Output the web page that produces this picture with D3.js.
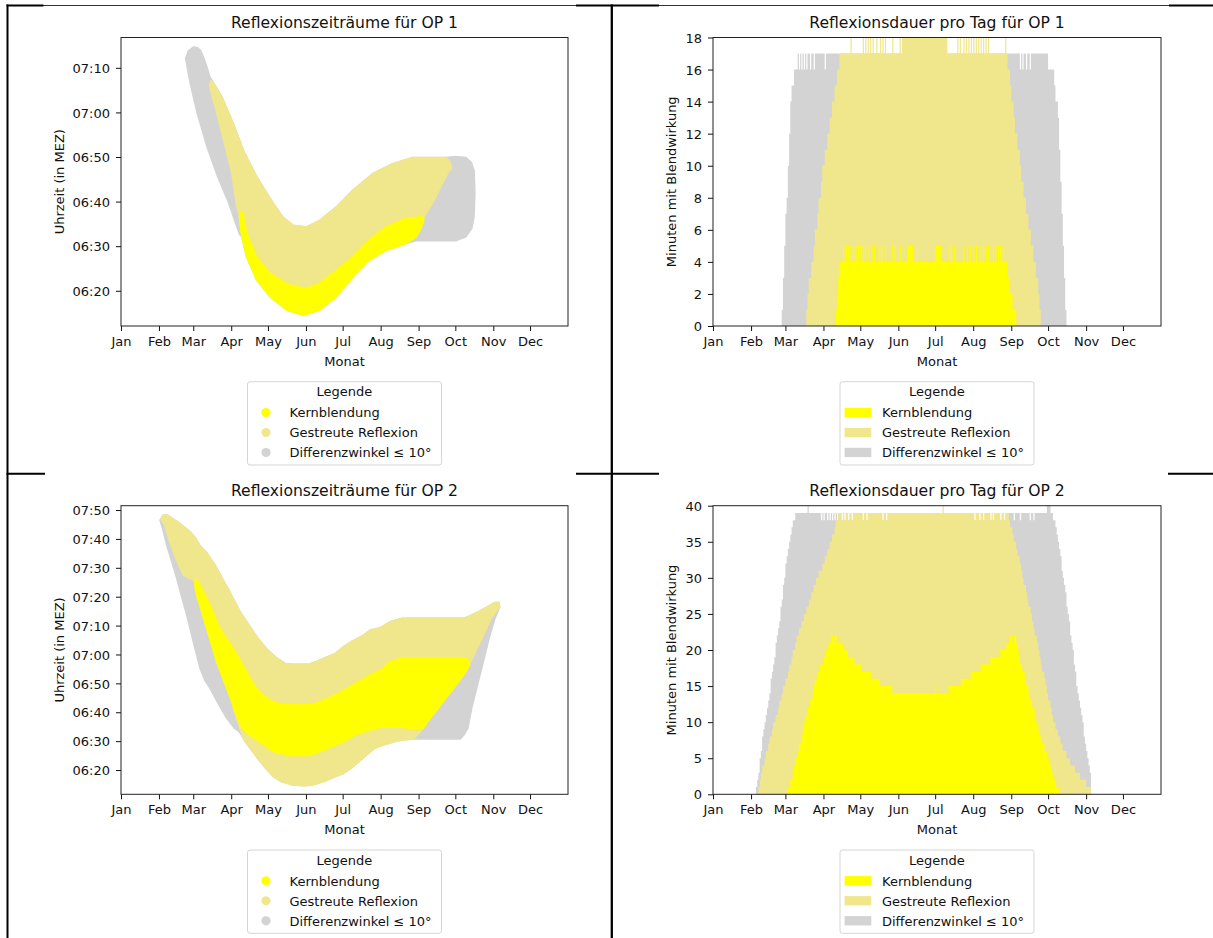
<!DOCTYPE html>
<html>
<head>
<meta charset="utf-8">
<script src="https://cdn.jsdelivr.net/npm/d3@7"></script>
<style>
  body { margin: 0; background: #fff; }
  svg { font-family: "DejaVu Sans", sans-serif; }
</style>
</head>
<body>
<svg id="chart" width="1213" height="938"></svg>
<script>
// ---- data -------------------------------------------------------------
// days = days after 1 Jan, times = minutes after midnight (MEZ)
const monthLabels = ["Jan", "Feb", "Mar", "Apr", "May", "Jun", "Jul", "Aug", "Sep", "Oct", "Nov", "Dec"];
const legendTitle = "Legende";
const legendLabels = ["Kernblendung", "Gestreute Reflexion", "Differenzwinkel \u2264 10\u00b0"];
const titles = ["Reflexionszeiträume für OP 1", "Reflexionsdauer pro Tag für OP 1",
                "Reflexionszeiträume für OP 2", "Reflexionsdauer pro Tag für OP 2"];

const op1TimeTicks = ["06:20", "06:30", "06:40", "06:50", "07:00", "07:10"];
const op2TimeTicks = ["06:20", "06:30", "06:40", "06:50", "07:00", "07:10", "07:20", "07:30", "07:40", "07:50"];
const op1MinuteTicks = [0, 2, 4, 6, 8, 10, 12, 14, 16, 18];
const op2MinuteTicks = [0, 5, 10, 15, 20, 25, 30, 35, 40];
const op1TimeLimits = [372.1, 436.8];
const op2TimeLimits = [371.6, 471.5];

// OP 1 reflection periods: upper and lower edge of each point cloud [day, minute]
const op1DiffTop = [[52.7,432.1],[55,433.8],[59.4,434.7],[62.5,434.5],[64.8,434],[67.5,432.3],[70.2,430.2],[72.5,428],[74.3,427.2],[78,425.5],[82.4,423.5],[90.5,418.3],[100,411.5],[110.8,405.6],[124.4,399.6],[132,396.6],[140.6,394.7],[151.4,394.3],[162.2,395.8],[175.9,398.8],[189.3,402.6],[205.7,406.3],[221.9,408.5],[238.1,409.9],[265.4,409.9],[273.3,410.1],[281.6,409.9],[286,408.8],[288.3,407],[289,402]];
const op1DiffBottom = [[52.7,432.1],[56.5,426.5],[62.2,419.8],[70.2,412.3],[79,405.5],[87.5,400],[94.6,394.3],[97.1,392.5],[98.7,392.1],[102.6,387.6],[110.8,382.4],[121.6,378.7],[135.2,375.7],[148.9,374.5],[162.2,375.7],[175.9,378.7],[189.3,383.1],[202.9,386.9],[216.5,389.1],[232.7,390.6],[241,391.2],[273.3,391.2],[281.6,392.1],[286.5,394],[288.3,396.6],[289,402]];
const op1ScatterTop = [[72.3,426.3],[73.5,427.1],[75,426.8],[78,425.5],[82.4,423.5],[90.5,418.3],[100,411.5],[110.8,405.6],[124.4,399.6],[132,396.6],[140.6,394.7],[151.4,394.3],[162.2,395.8],[175.9,398.8],[189.3,402.6],[205.7,406.3],[221.9,408.5],[238.1,409.9],[265.4,409.9],[268.5,409],[270,407.5]];
const op1ScatterBottom = [[72.3,426.3],[74,424],[76.8,421.3],[83.8,413.8],[90.5,406.3],[94.6,398.8],[96.5,397],[97.3,395],[98.7,392.1],[102.6,387.6],[110.8,382.4],[121.6,378.7],[135.2,375.7],[148.9,374.5],[162.2,375.7],[175.9,378.7],[189.3,383.1],[202.9,386.9],[216.5,389.1],[232.7,390.6],[240.9,392.1],[245,394],[246.8,395.8],[247.6,396.6],[254.3,399.6],[262.5,404.1],[267,406.5],[270,407.5]];
const op1KernTop = [[96.8,396.5],[97.8,397.7],[99.5,397.5],[102.6,392.9],[110.8,387.6],[121.6,383.9],[135.2,381.6],[150.2,380.5],[162.2,381.6],[175.9,384.6],[189.3,387.6],[202.9,391.4],[216.5,394.3],[232.7,396.2],[246.3,396.6],[247.3,395.8]];
const op1KernBottom = [[96.8,396.5],[97.5,394.5],[98.7,392.1],[102.6,387.6],[110.8,382.4],[121.6,378.7],[135.2,375.7],[148.9,374.5],[162.2,375.7],[175.9,378.7],[189.3,383.1],[202.9,386.9],[216.5,389.1],[232.7,390.6],[240.9,392.1],[245,394],[247.3,395.8]];

// OP 2 reflection periods
const op2DiffTop = [[31.8,466.5],[34.5,468.3],[38,468.2],[41.9,467.1],[46,466],[51.4,464.2],[56.5,462.5],[60.5,460.5],[64.1,457.9],[70.3,455],[76.8,451],[83.3,445.8],[89.5,441.2],[97,435],[104,430.5],[112,425.5],[120,421.5],[127.5,418.7],[134,416.9],[140.3,416.6],[153,416.6],[159.4,417.5],[165.7,418.7],[175.2,420.4],[181.6,422.7],[187.9,424.4],[197.5,426.5],[203.8,428.5],[211.7,429.3],[219.7,431.3],[229.2,432.5],[280,432.5],[286.3,433.7],[292.7,435],[299,436.5],[305.4,438],[308.5,438],[309.3,436.5]];
const op2DiffBottom = [[31.8,466.5],[34,463.5],[37.3,457.9],[41.5,452],[45.5,446.4],[49.5,440],[53.6,433.7],[59,424.4],[64.5,415.2],[68.5,411],[72.7,408.3],[80,402.5],[86.3,397.9],[92.7,394.4],[96.5,393.3],[100.6,390.4],[105.4,387.5],[111.7,384],[118.1,380.6],[124.4,377.7],[130.8,376],[140.3,374.8],[149.8,374.6],[156.2,374.8],[165.7,376],[175.2,377.7],[181.6,378.8],[187.9,380.6],[194.3,382.9],[200.6,385.2],[207,387.5],[214.9,388.7],[222.9,389.8],[229.2,390.4],[238.7,390.7],[276.8,390.7],[280,392.1],[283.2,394.4],[286.3,401.3],[291.1,409.4],[295.9,417.5],[300.6,425.6],[305.4,432.5],[309.3,436.5]];
const op2ScatterTop = [[32.5,466.8],[34.5,468.3],[38,468.2],[41.9,467.1],[46,466],[51.4,464.2],[56.5,462.5],[60.5,460.5],[64.1,457.9],[70.3,455],[76.8,451],[83.3,445.8],[89.5,441.2],[97,435],[104,430.5],[112,425.5],[120,421.5],[127.5,418.7],[134,416.9],[140.3,416.6],[153,416.6],[159.4,417.5],[165.7,418.7],[175.2,420.4],[181.6,422.7],[187.9,424.4],[197.5,426.5],[203.8,428.5],[211.7,429.3],[219.7,431.3],[229.2,432.5],[280,432.5],[286.3,433.7],[292.7,435],[299,436.5],[305.4,438],[308.5,438],[309.3,436.5]];
const op2ScatterBottom = [[32.5,466.8],[35.9,464.8],[39,460],[42.7,455.6],[46.5,451.5],[50.9,447.5],[55,446.5],[58.5,446],[60.4,445],[61.8,440.6],[70,429],[78.1,417.5],[86.3,408.3],[89.5,404.8],[92.5,400.5],[95.5,396.5],[97.5,393.8],[100.6,390.4],[105.4,387.5],[111.7,384],[118.1,380.6],[124.4,377.7],[130.8,376],[140.3,374.8],[149.8,374.6],[156.2,374.8],[165.7,376],[175.2,377.7],[181.6,378.8],[187.9,380.6],[194.3,382.9],[200.6,385.2],[207,387.5],[214.9,388.7],[222.9,389.8],[229.2,390.4],[238.7,390.7],[241.9,392.1],[246.7,394.4],[251.4,397.3],[257.8,400.8],[264.1,404.2],[270.5,407.7],[276.8,411.2],[281.6,414],[283.8,415.8],[289.5,421],[295.9,426.7],[302.2,432.5],[309.3,436.5]];
const op2KernTop = [[60.4,445.5],[62,446],[64.5,444],[72.7,437.1],[80.8,429],[91.7,422.1],[102.6,414],[108.6,409.4],[114.9,406.5],[121.3,404.2],[130.8,402.7],[143.5,402.5],[156.2,402.7],[165.7,404.2],[175.2,406],[184.8,408.3],[194.3,410.6],[203.8,412.9],[213.3,414.9],[219.7,417.5],[229.2,418.7],[281.6,418.7],[283.8,417.5],[284.4,416.3]];
const op2KernBottom = [[60.4,445.5],[60.5,443],[61.8,440.6],[70,429],[78.1,417.5],[86.3,408.3],[89.5,404.8],[94.3,399],[99,394.4],[105.4,392.1],[114.9,389.2],[124.4,386.4],[137.1,385],[153,385],[162.5,386.4],[172.1,388.1],[181.6,389.8],[191.1,392.1],[200.6,393.6],[213.3,395],[226,395],[235.6,394.4],[246.7,394.4],[251.4,397.3],[257.8,400.8],[264.1,404.2],[270.5,407.7],[276.8,411.2],[281.6,414],[284.4,416.3]];

// minutes per day, as runs [first day, minutes] held until the next entry
const op1DiffRuns = [[56,1],[57,3],[58,5],[59,7],[60,8],[61,10],[62,12],[63,14],[64,15],[66,16],[69,17],[70,16],[71,17],[72,16],[73,17],[74,16],[75,17],[76,16],[77,17],[79,16],[80,17],[82,16],[83,17],[91,16],[92,17],[250,16],[251,17],[252,16],[253,17],[255,16],[256,17],[258,16],[259,17],[273,16],[278,15],[279,14],[281,13],[282,11],[283,9],[284,7],[285,5],[286,3],[287,1],[288,0]];
const op1ScatterRuns = [[76,1],[77,2],[78,3],[80,4],[82,5],[83,6],[85,7],[86,8],[88,9],[89,10],[91,11],[93,12],[95,13],[97,14],[99,15],[101,16],[103,17],[112,18],[113,17],[122,18],[123,17],[124,18],[125,17],[126,18],[127,17],[128,18],[129,17],[130,18],[131,17],[133,18],[134,17],[136,18],[137,17],[138,18],[139,17],[140,18],[141,17],[146,18],[147,17],[152,18],[153,17],[154,18],[191,17],[199,18],[200,17],[201,18],[202,17],[204,18],[205,17],[206,18],[207,17],[208,18],[209,17],[210,18],[211,17],[212,18],[213,17],[214,18],[215,17],[216,18],[217,17],[218,18],[219,17],[220,18],[221,17],[222,18],[223,17],[224,18],[225,17],[238,18],[239,17],[240,16],[242,15],[243,14],[245,13],[246,12],[248,11],[250,10],[251,9],[253,8],[255,7],[257,6],[259,5],[261,4],[263,3],[265,2],[266,1],[267,0]];
const op1KernRuns = [[100,1],[101,2],[102,3],[103,4],[106,5],[107,4],[108,5],[109,4],[110,5],[111,4],[112,5],[113,4],[114,5],[115,4],[116,5],[117,4],[118,5],[119,4],[120,5],[121,4],[122,5],[123,4],[124,5],[125,4],[127,5],[128,4],[129,5],[130,4],[131,5],[132,4],[135,5],[136,4],[137,5],[138,4],[140,5],[141,4],[146,5],[147,4],[148,5],[149,4],[152,5],[153,4],[158,5],[163,4],[181,5],[186,4],[192,5],[193,4],[194,5],[195,4],[196,5],[197,4],[204,5],[205,4],[207,5],[208,4],[209,5],[210,4],[212,5],[213,4],[214,5],[215,4],[218,5],[219,4],[220,5],[221,4],[222,5],[223,4],[224,5],[225,4],[228,5],[229,4],[230,5],[231,4],[232,5],[233,4],[234,5],[235,4],[236,5],[237,4],[240,3],[242,2],[244,1],[247,0]];

const op2DiffRuns = [[35,1],[36,2],[37,3],[38,5],[39,6],[40,8],[41,9],[42,10],[43,11],[44,12],[45,13],[46,14],[47,16],[48,17],[49,18],[50,19],[51,21],[52,22],[53,23],[54,24],[55,26],[56,27],[57,29],[58,30],[59,32],[60,33],[61,34],[62,35],[63,36],[64,37],[65,38],[67,39],[77,40],[78,39],[88,38],[89,39],[90,38],[91,39],[93,38],[94,39],[95,38],[96,39],[97,38],[98,39],[99,38],[100,39],[101,38],[102,39],[103,38],[240,39],[245,38],[246,39],[250,38],[251,39],[258,38],[259,39],[261,38],[262,39],[272,40],[275,39],[277,38],[279,37],[280,36],[281,35],[282,34],[283,33],[284,31],[285,30],[286,29],[287,28],[288,26],[289,25],[290,24],[291,22],[292,21],[293,20],[294,18],[295,17],[296,15],[297,14],[298,13],[299,12],[300,11],[301,10],[302,8],[303,7],[304,6],[305,5],[306,4],[307,3],[308,0]];
const op2ScatterRuns = [[37,1],[38,2],[39,3],[40,4],[42,5],[43,6],[45,7],[46,8],[48,9],[49,10],[51,11],[53,12],[54,13],[56,14],[57,15],[59,16],[61,17],[62,18],[64,19],[65,20],[67,21],[68,22],[70,23],[72,24],[74,25],[76,26],[78,27],[80,28],[82,29],[84,30],[86,31],[89,32],[91,33],[93,34],[95,35],[97,36],[99,37],[100,38],[102,39],[105,38],[106,39],[107,38],[108,39],[110,38],[111,39],[113,38],[114,39],[122,38],[123,39],[125,38],[126,39],[138,38],[139,39],[141,38],[142,39],[187,40],[188,39],[213,38],[214,39],[217,38],[218,39],[220,38],[221,39],[226,38],[227,39],[228,38],[229,39],[234,38],[235,39],[237,38],[238,39],[241,38],[242,37],[244,36],[245,35],[247,34],[248,33],[250,32],[251,31],[252,30],[253,29],[255,28],[256,27],[257,26],[259,25],[260,24],[261,23],[262,22],[264,21],[265,20],[266,19],[267,18],[268,17],[270,16],[271,15],[272,14],[273,13],[275,12],[276,11],[277,10],[279,9],[281,8],[283,7],[285,6],[288,5],[291,4],[295,3],[299,2],[304,1],[308,0]];
const op2KernRuns = [[61,1],[63,2],[65,3],[66,4],[67,5],[69,6],[70,7],[72,8],[73,9],[74,10],[76,11],[77,12],[79,13],[81,14],[82,15],[83,16],[85,17],[87,18],[90,19],[92,20],[94,21],[96,22],[98,21],[99,22],[101,21],[106,20],[110,19],[115,18],[121,17],[129,16],[136,15],[146,14],[181,15],[182,14],[192,15],[202,16],[210,17],[218,18],[226,19],[234,20],[239,21],[242,22],[244,21],[245,22],[247,21],[248,20],[249,19],[250,18],[252,17],[254,16],[255,15],[257,14],[258,13],[260,12],[262,11],[263,10],[265,9],[266,8],[268,7],[270,6],[272,5],[274,4],[276,3],[277,2],[279,1],[282,0]];

// ---- helpers ----------------------------------------------------------
const kernColor = "#ffff00", scatterColor = "#f0e68c", diffColor = "#d3d3d3";
const yearStart = new Date(2021, 0, 1), yearEnd = new Date(2022, 0, 1);
const dayDate = d => new Date(yearStart.getTime() + d * 864e5);
const toMinutes = s => { const p = s.split(":"); return +p[0] * 60 + +p[1]; };

const svg = d3.select("#chart");

function panel(left, right, top, bottom) {
    return {left, right, top, bottom, cx: (left + right) / 2, cy: (top + bottom) / 2,
            x: d3.scaleTime().domain([yearStart, yearEnd]).range([left, right])};
}

function axes(p, yTicks, yFormat, title, ylabel, ylabelX) {
    var gx = svg.append("g")
        .attr("transform", "translate(0," + p.bottom + ")")
        .call(d3.axisBottom(p.x)
            .tickValues(d3.timeMonths(yearStart, yearEnd))
            .tickFormat((d, i) => monthLabels[i])
            .tickSize(5).tickPadding(5.8));
    var gy = svg.append("g")
        .attr("transform", "translate(" + p.left + ",0)")
        .call(d3.axisLeft(p.y).tickValues(yTicks).tickFormat(yFormat).tickSize(5).tickPadding(6));
    [gx, gy].forEach(g => {
        g.attr("font-family", null).attr("font-size", 13).style("color", "#111");
        g.select(".domain").remove();
    });
    gy.selectAll("text").attr("dy", "0.36em");

    svg.append("text").attr("x", p.cx).attr("y", p.top - 9.5)
        .attr("text-anchor", "middle").attr("font-size", 15.6).attr("fill", "#111").text(title);
    svg.append("text").attr("x", p.cx).attr("y", p.bottom + 39.5)
        .attr("text-anchor", "middle").attr("font-size", 13).attr("fill", "#111").text("Monat");
    svg.append("text")
        .attr("transform", "translate(" + ylabelX + "," + p.cy + ") rotate(-90)")
        .attr("text-anchor", "middle").attr("font-size", 13).attr("fill", "#111").text(ylabel);
}

function spines(p) {
    svg.append("rect").attr("x", p.left).attr("y", p.top)
        .attr("width", p.right - p.left).attr("height", p.bottom - p.top)
        .attr("fill", "none").attr("stroke", "#222").attr("stroke-width", 1);
}

function cloud(p, top, bottom, color) {
    var line = d3.line().x(d => p.x(dayDate(d[0]))).y(d => p.y(d[1]));
    svg.append("path")
        .attr("d", line(top.concat(bottom.slice().reverse())) + "Z")
        .attr("fill", color).attr("stroke", color)
        .attr("stroke-width", 1.5).attr("stroke-linejoin", "round");
}

function bars(p, runs, color) {
    var area = d3.area().curve(d3.curveStepAfter)
        .x(d => p.x(dayDate(d[0]))).y0(p.y(0)).y1(d => p.y(d[1]));
    svg.append("path").attr("d", area(runs)).attr("fill", color);
}

function legend(p, kind) {
    var x0 = p.cx - 97, y0 = p.bottom + 55.7;
    var g = svg.append("g");
    g.append("rect").attr("x", x0).attr("y", y0).attr("width", 194).attr("height", 83.3)
        .attr("rx", 2.5).attr("fill", "#fff").attr("stroke", "#d5d5d5").attr("stroke-width", 1);
    g.append("text").attr("x", x0 + 97).attr("y", y0 + 14.7).attr("text-anchor", "middle")
        .attr("font-size", 13).attr("fill", "#111").text(legendTitle);
    var cols = [kernColor, scatterColor, diffColor];
    legendLabels.forEach((lab, i) => {
        var cy = y0 + 30.8 + i * 20;
        if (kind === "dot") {
            g.append("circle").attr("cx", x0 + 18.5).attr("cy", cy).attr("r", 4.6).attr("fill", cols[i]);
        } else {
            g.append("rect").attr("x", x0 + 4.6).attr("y", cy - 4.7)
                .attr("width", 26.7).attr("height", 9.3).attr("fill", cols[i]);
        }
        g.append("text").attr("x", x0 + 42).attr("y", cy + 4.7)
            .attr("font-size", 13).attr("fill", "#111").text(lab);
    });
}

const timeFmt = m => String(Math.floor(m / 60)).padStart(2, "0") + ":" + String(m % 60).padStart(2, "0");

// ---- panels -----------------------------------------------------------
var p1 = panel(121, 568, 37.5, 326);
p1.y = d3.scaleLinear().domain(op1TimeLimits).range([p1.bottom, p1.top]);
cloud(p1, op1DiffTop, op1DiffBottom, diffColor);
cloud(p1, op1ScatterTop, op1ScatterBottom, scatterColor);
cloud(p1, op1KernTop, op1KernBottom, kernColor);
axes(p1, op1TimeTicks.map(toMinutes), timeFmt, titles[0], "Uhrzeit (in MEZ)", 63.7);
spines(p1);
legend(p1, "dot");

var p2 = panel(713, 1161, 37.5, 326);
p2.y = d3.scaleLinear().domain([0, d3.max(op1MinuteTicks)]).range([p2.bottom, p2.top]);
bars(p2, op1DiffRuns, diffColor);
bars(p2, op1ScatterRuns, scatterColor);
bars(p2, op1KernRuns, kernColor);
axes(p2, op1MinuteTicks, d3.format("d"), titles[1], "Minuten mit Blendwirkung", 676.3);
spines(p2);
legend(p2, "patch");

var p3 = panel(121, 568, 505.7, 794.3);
p3.y = d3.scaleLinear().domain(op2TimeLimits).range([p3.bottom, p3.top]);
cloud(p3, op2DiffTop, op2DiffBottom, diffColor);
cloud(p3, op2ScatterTop, op2ScatterBottom, scatterColor);
cloud(p3, op2KernTop, op2KernBottom, kernColor);
axes(p3, op2TimeTicks.map(toMinutes), timeFmt, titles[2], "Uhrzeit (in MEZ)", 63.7);
spines(p3);
legend(p3, "dot");

var p4 = panel(713, 1161, 505.7, 794.3);
p4.y = d3.scaleLinear().domain([0, d3.max(op2MinuteTicks)]).range([p4.bottom, p4.top]);
bars(p4, op2DiffRuns, diffColor);
bars(p4, op2ScatterRuns, scatterColor);
bars(p4, op2KernRuns, kernColor);
axes(p4, op2MinuteTicks, d3.format("d"), titles[3], "Minuten mit Blendwirkung", 676.3);
spines(p4);
legend(p4, "patch");

// ---- table borders of the document ------------------------------------
function seg(x1, y1, x2, y2, w, c) {
    svg.append("line").attr("x1", x1).attr("y1", y1).attr("x2", x2).attr("y2", y2)
        .attr("stroke", c).attr("stroke-width", w);
}
seg(43, 5.5, 1169, 5.5, 1, "#333");
[[6.5, 43.5], [576, 659], [1169, 1213]].forEach(s => seg(s[0], 5.6, s[1], 5.6, 2, "#000"));
[[6.5, 45], [576, 659], [1168, 1213]].forEach(s => seg(s[0], 473.7, s[1], 473.7, 2, "#000"));
seg(7.5, 4.6, 7.5, 938, 2, "#000");
seg(611.8, 4.6, 611.8, 938, 2.3, "#000");
</script>
</body>
</html>
